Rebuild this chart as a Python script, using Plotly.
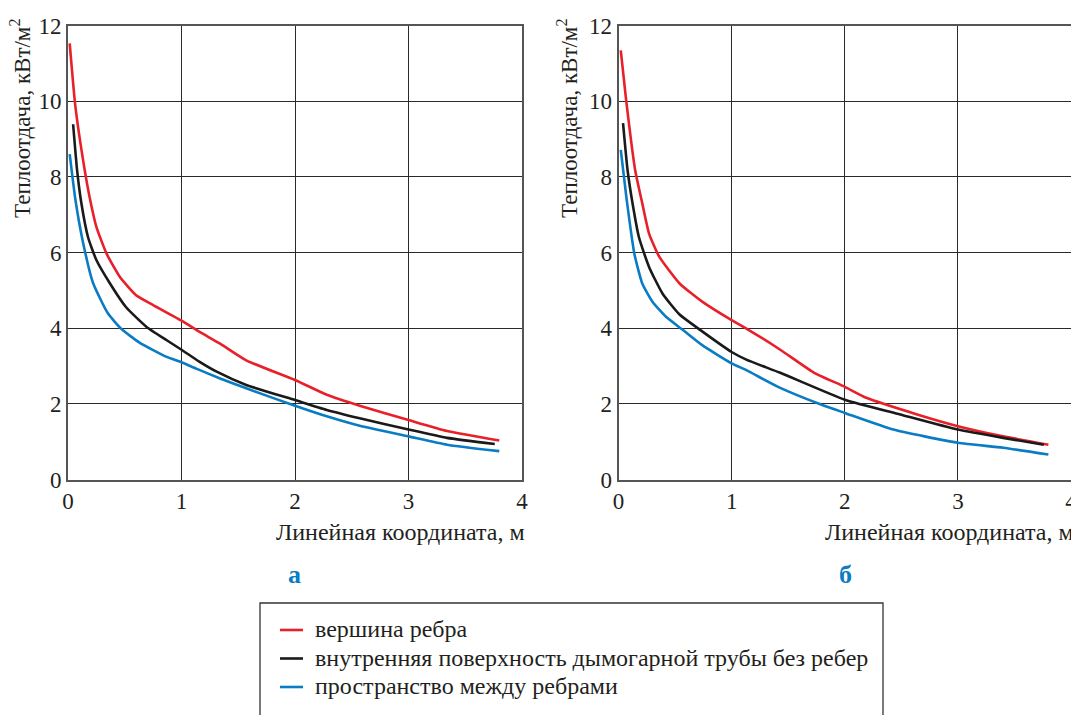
import plotly.graph_objects as go

OFF = 8                      # page body margin in the browser
W, H = 1079 - OFF, 715 - OFF

# ---- data: panel "а" ----
a_red_x = [0.015, 0.065, 0.147, 0.19, 0.25, 0.34, 0.456, 0.60, 0.75, 1.0, 1.16, 1.34, 1.57, 2.0, 2.28, 2.57, 3.0, 3.34, 3.8]
a_red_y = [11.53, 9.86, 8.18, 7.47, 6.68, 5.97, 5.36, 4.87, 4.61, 4.20, 3.90, 3.59, 3.15, 2.63, 2.24, 1.95, 1.57, 1.28, 1.03]
a_blk_x = [0.045, 0.08, 0.118, 0.176, 0.25, 0.37, 0.51, 0.69, 0.87, 1.0, 1.16, 1.31, 1.57, 2.0, 2.28, 2.57, 3.0, 3.34, 3.76]
a_blk_y = [9.39, 8.18, 7.30, 6.41, 5.80, 5.18, 4.56, 4.04, 3.68, 3.43, 3.11, 2.85, 2.50, 2.10, 1.84, 1.62, 1.32, 1.10, 0.94]
a_blu_x = [0.015, 0.065, 0.13, 0.22, 0.35, 0.47, 0.63, 0.87, 1.0, 1.13, 1.34, 1.57, 2.0, 2.28, 2.57, 3.0, 3.34, 3.8]
a_blu_y = [8.60, 7.40, 6.30, 5.20, 4.40, 3.98, 3.62, 3.24, 3.10, 2.93, 2.67, 2.41, 1.95, 1.67, 1.42, 1.14, 0.92, 0.75]

# ---- data: panel "б" ----
b_red_x = [0.02, 0.067, 0.147, 0.21, 0.27, 0.36, 0.54, 0.74, 1.0, 1.13, 1.43, 1.73, 2.0, 2.19, 2.64, 3.0, 3.4, 3.8]
b_red_y = [11.34, 10.04, 8.18, 7.30, 6.50, 5.89, 5.18, 4.70, 4.21, 3.99, 3.43, 2.82, 2.45, 2.16, 1.72, 1.41, 1.14, 0.92]
b_blk_x = [0.04, 0.08, 0.124, 0.18, 0.27, 0.39, 0.54, 0.70, 1.0, 1.13, 1.43, 2.0, 2.49, 3.0, 3.4, 3.76]
b_blk_y = [9.42, 8.18, 7.30, 6.41, 5.62, 4.91, 4.36, 4.00, 3.37, 3.17, 2.82, 2.11, 1.72, 1.32, 1.10, 0.92]
b_blu_x = [0.02, 0.07, 0.14, 0.21, 0.30, 0.42, 0.57, 0.74, 1.0, 1.13, 1.43, 1.79, 2.0, 2.43, 3.0, 3.4, 3.8]
b_blu_y = [8.71, 7.45, 5.97, 5.18, 4.70, 4.30, 3.95, 3.55, 3.07, 2.89, 2.42, 1.98, 1.76, 1.32, 0.97, 0.84, 0.66]

series_names = ["вершина ребра",
                "внутренняя поверхность дымогарной трубы без ребер",
                "пространство между ребрами"]
series_colors = ["#E8202A", "#1A1A1A", "#0A7CC4"]

x_ticks = [0, 1, 2, 3, 4]
y_ticks = [0, 2, 4, 6, 8, 10, 12]
panel_labels = ["а", "б"]
y_title = "Теплоотдача, кВт/м<sup>2</sup>"
x_title = "Линейная координата, м"

FONT = "Liberation Serif, Times New Roman, DejaVu Serif, serif"
TXT = "#231F20"
TXT_SIZE = 24
TICK_SIZE = 23

fig = go.Figure()

panels = [
    ("x", "y", [(a_red_x, a_red_y), (a_blk_x, a_blk_y), (a_blu_x, a_blu_y)]),
    ("x2", "y2", [(b_red_x, b_red_y), (b_blk_x, b_blk_y), (b_blu_x, b_blu_y)]),
]
for pi, (xa, ya, data) in enumerate(panels):
    for si, (xs, ys) in enumerate(data):
        fig.add_trace(go.Scatter(
            x=xs, y=ys, xaxis=xa, yaxis=ya, mode="lines",
            name=series_names[si], legendgroup=str(si), showlegend=False,
            line=dict(color=series_colors[si], width=2.6, shape="spline", smoothing=0.5),
        ))

def px_x(p):
    return (p - OFF) / W

def px_y(p):
    return 1 - (p - OFF) / H

axis_common = dict(
    showgrid=True, gridcolor="#2a2a2a", gridwidth=1.3,
    showline=True, linecolor="#555555", linewidth=2, mirror=True,
    zeroline=False, ticks="", automargin=False, ticklabeloverflow="allow",
    tickfont=dict(family=FONT, size=TICK_SIZE, color=TXT),
)

fig.update_layout(
    xaxis=dict(domain=[px_x(68), px_x(522)], range=[0, 4], tickvals=x_ticks,
               anchor="y", **axis_common),
    yaxis=dict(domain=[px_y(479.5), px_y(25.5)], range=[0, 12], tickvals=y_ticks,
               anchor="x", **axis_common),
    xaxis2=dict(domain=[px_x(618.5), px_x(1071)], range=[0, 4], tickvals=x_ticks,
                anchor="y2", **axis_common),
    yaxis2=dict(domain=[px_y(479.5), px_y(25.5)], range=[0, 12], tickvals=y_ticks,
                anchor="x2", **axis_common),
)

annotations = []
for xc, xr in [(21, 527), (568, 1076)]:
    annotations.append(dict(
        text=y_title, xref="paper", yref="paper", x=px_x(xc), y=px_y(119),
        xanchor="center", yanchor="middle", textangle=-90, showarrow=False,
        font=dict(family=FONT, size=23, color=TXT)))
    annotations.append(dict(
        text=x_title, xref="paper", yref="paper", x=px_x(xr), y=px_y(532),
        xanchor="right", yanchor="middle", showarrow=False,
        font=dict(family=FONT, size=TXT_SIZE, color=TXT)))
for lbl, xl in zip(panel_labels, [294, 845]):
    annotations.append(dict(
        text="<b>" + lbl + "</b>", xref="paper", yref="paper", x=px_x(xl), y=px_y(574),
        xanchor="center", yanchor="middle", showarrow=False,
        font=dict(family=FONT, size=26, color="#0A7CC4")))

# legend (drawn manually to match the original's compact layout)
shapes = [dict(type="rect", xref="paper", yref="paper",
               x0=px_x(260), x1=px_x(883), y0=px_y(740), y1=px_y(603),
               line=dict(color="#333333", width=1.3), fillcolor="rgba(0,0,0,0)")]
row_y = [630, 658.5, 687]
for name, color, ry in zip(series_names, series_colors, row_y):
    shapes.append(dict(type="line", xref="paper", yref="paper",
                       x0=px_x(280), x1=px_x(303), y0=px_y(ry), y1=px_y(ry),
                       line=dict(color=color, width=2.6)))
    annotations.append(dict(
        text=name, xref="paper", yref="paper", x=px_x(313), y=px_y(ry - 1),
        xanchor="left", yanchor="middle", showarrow=False,
        font=dict(family=FONT, size=TXT_SIZE, color=TXT)))

fig.update_layout(
    annotations=annotations,
    shapes=shapes,
    showlegend=False,
    width=W, height=H,
    margin=dict(l=0, r=0, t=0, b=0, autoexpand=False),
    paper_bgcolor="white", plot_bgcolor="white",
)

fig.write_html("out.html")
